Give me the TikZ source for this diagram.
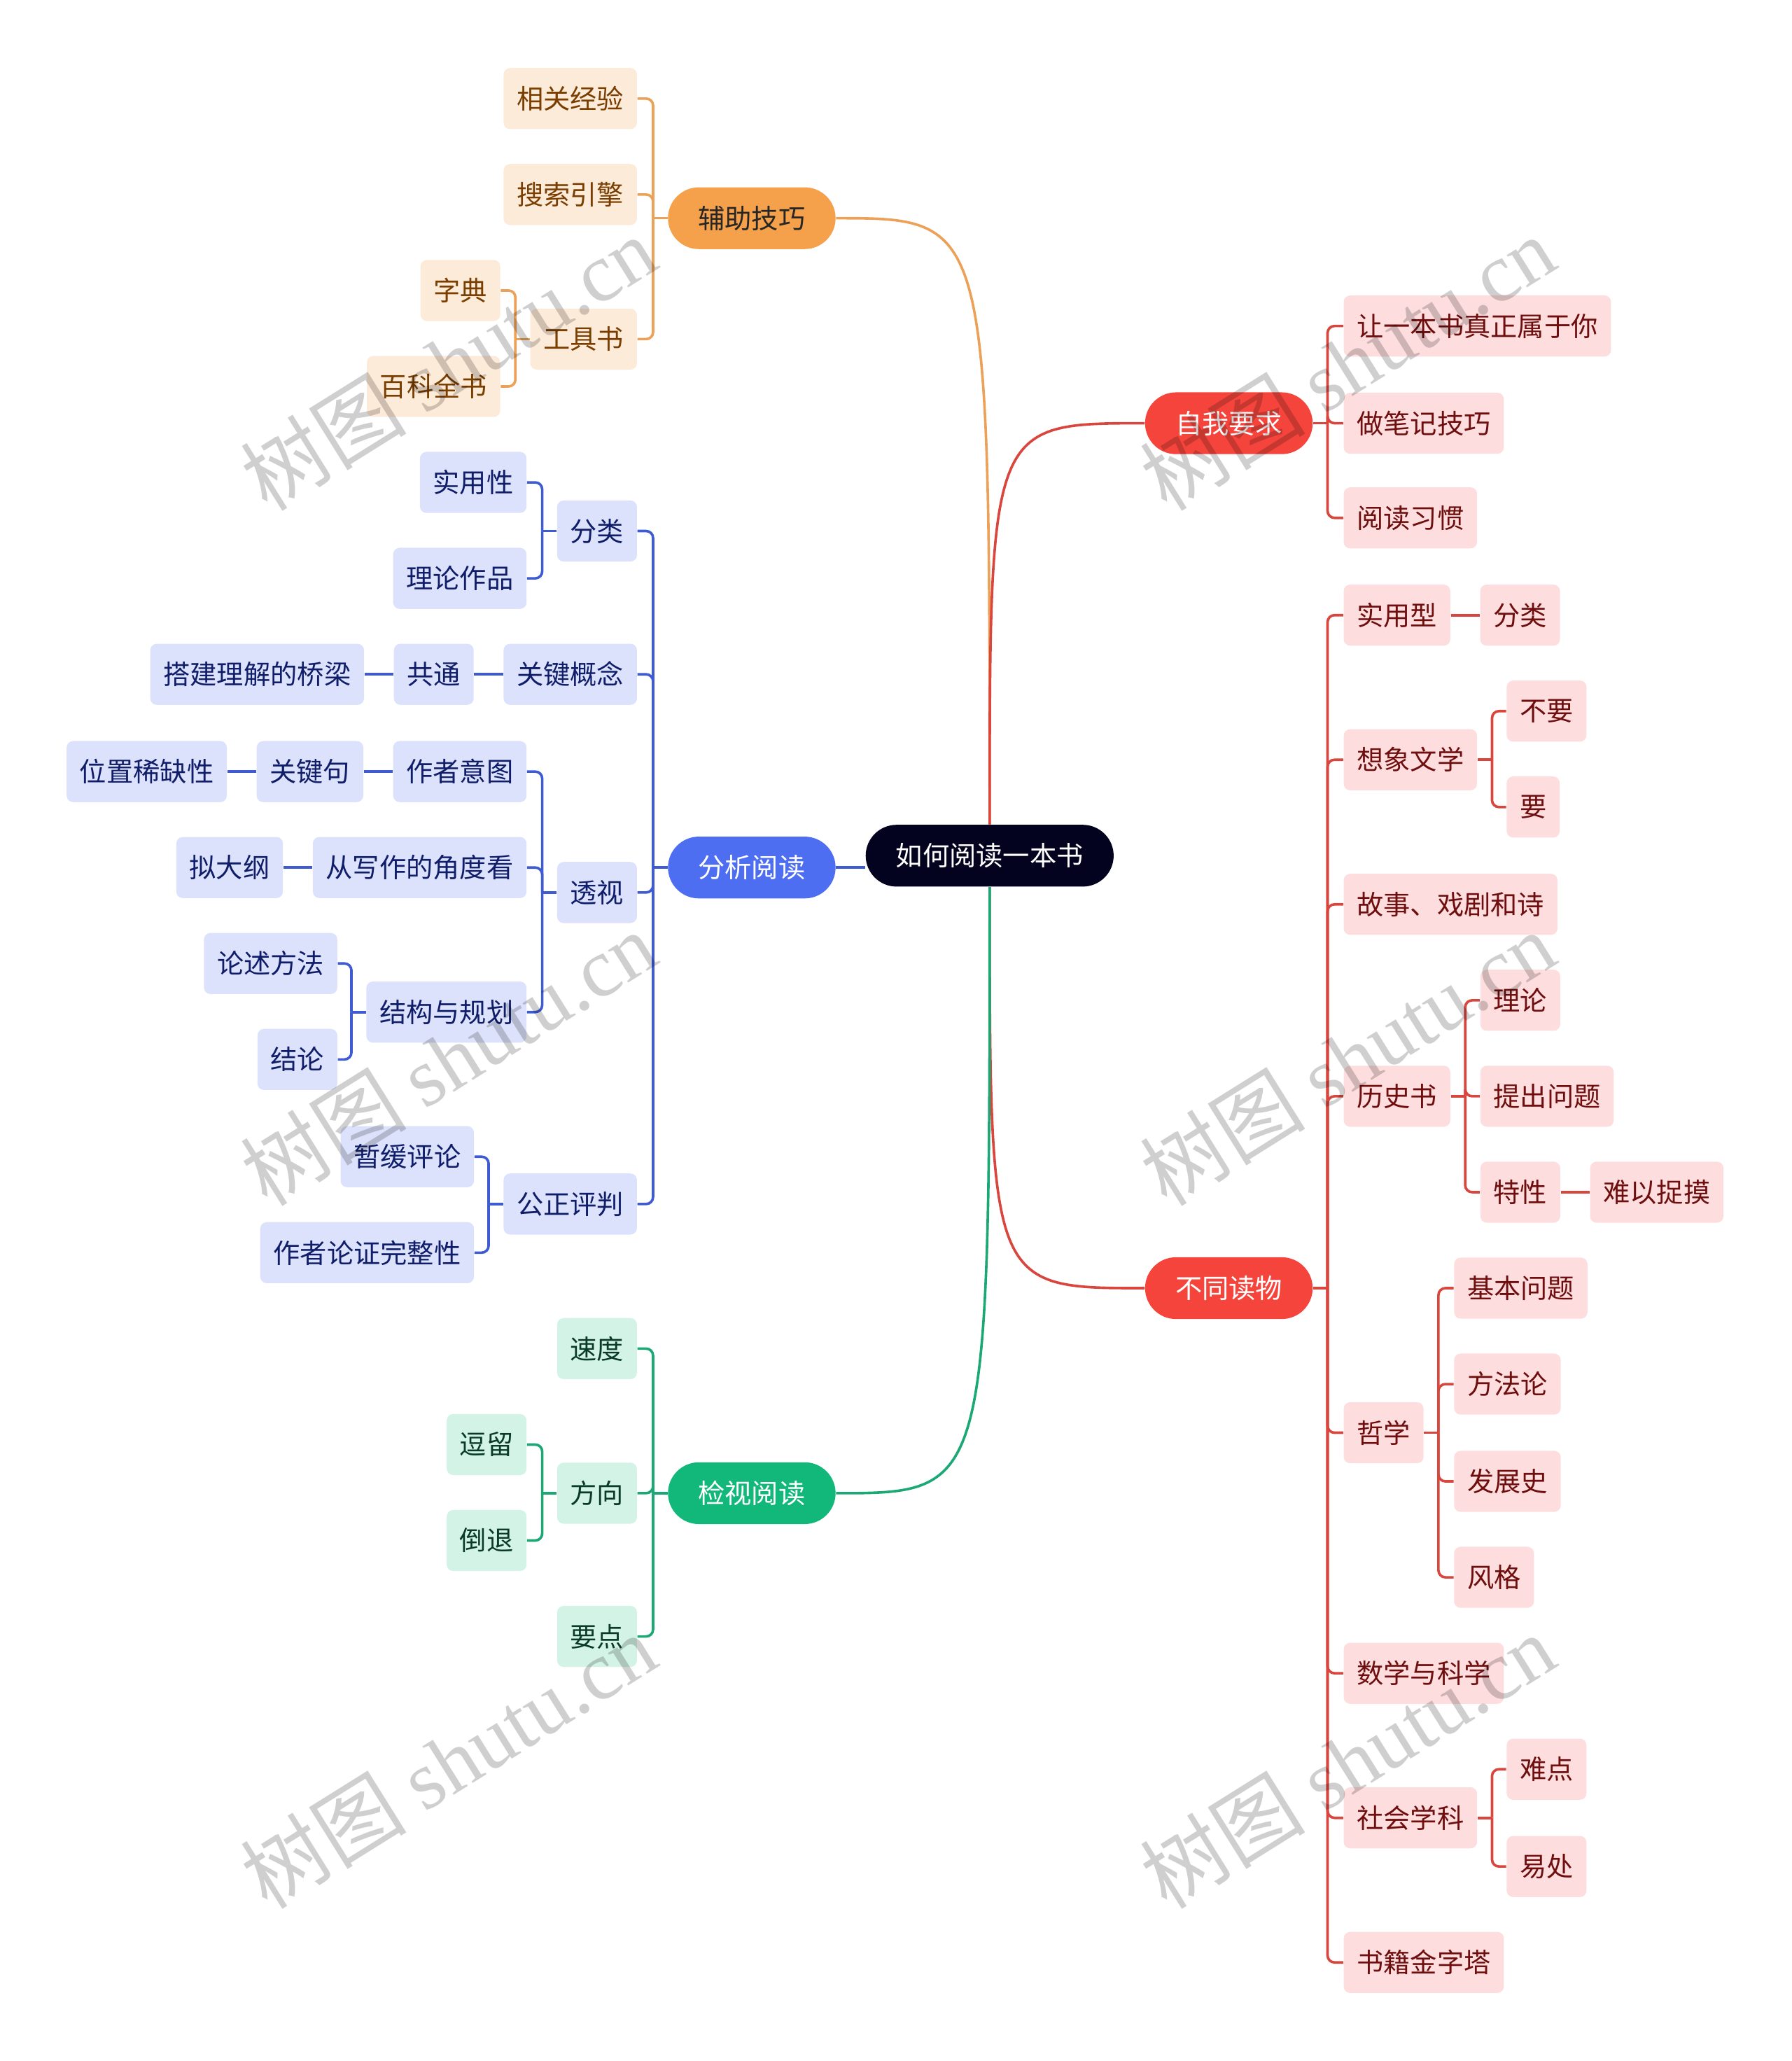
\documentclass[tikz,border=0pt]{standalone}
\usepackage{fontspec}
\setmainfont{Noto Sans CJK SC}
\newfontfamily\wmfont{Liberation Serif}
\usepackage{tikz}
\usetikzlibrary{positioning}

\definecolor{rootfill}{HTML}{03031F}
\definecolor{orgmain}{HTML}{F5A14C}
\definecolor{orgleaf}{HTML}{FDEBDA}
\definecolor{orgtext}{HTML}{7A3E00}
\definecolor{orgedge}{HTML}{EBA258}
\definecolor{redmain}{HTML}{F5443C}
\definecolor{redleaf}{HTML}{FDDDDD}
\definecolor{redtext}{HTML}{6E0E0E}
\definecolor{rededge}{HTML}{D8463E}
\definecolor{blumain}{HTML}{4E6EF2}
\definecolor{bluleaf}{HTML}{DCE2FB}
\definecolor{blutext}{HTML}{101E6A}
\definecolor{bluedge}{HTML}{3F5BD3}
\definecolor{grnmain}{HTML}{12B87A}
\definecolor{grnleaf}{HTML}{D3F3E6}
\definecolor{grntext}{HTML}{0A3A28}
\definecolor{grnedge}{HTML}{1BA874}

\begin{document}
\begin{tikzpicture}[x=0.02cm,y=-0.02cm,node distance=0.44cm,
	every node/.style={font=\fontsize{11.6}{14}\selectfont},
	leaf/.style={rectangle,rounded corners=0.1cm,minimum height=0.93cm,inner xsep=0.2cm,inner ysep=0pt},
	pill/.style={rectangle,rounded corners=0.47cm,minimum height=0.94cm,inner xsep=0.46cm,inner ysep=0pt},
	oleaf/.style={leaf,fill=orgleaf,text=orgtext},
	rleaf/.style={leaf,fill=redleaf,text=redtext},
	bleaf/.style={leaf,fill=bluleaf,text=blutext},
	gleaf/.style={leaf,fill=grnleaf,text=grntext},
	oline/.style={draw=orgedge,line width=1.1pt,rounded corners=3pt},
	rline/.style={draw=rededge,line width=1.1pt,rounded corners=3pt},
	bline/.style={draw=bluedge,line width=1.1pt,rounded corners=3pt},
	gline/.style={draw=grnedge,line width=1.1pt,rounded corners=3pt},
	wmark/.style={rotate=32,text=black,text opacity=0.19,font=\fontsize{36}{40}\selectfont}]
	
	\useasboundingbox (0,0) rectangle (1363,1568);
	
	% centre
	\node[pill,fill=rootfill,text=white] (root) at (753,651) {如何阅读一本书};
	
	% 辅助技巧
	\node[pill,fill=orgmain,text=black!85] (fz) at (572,166) {辅助技巧};
	\node[oleaf,anchor=east] (fz1) at (485,75) {相关经验};
	\node[oleaf,anchor=east] (fz2) at (485,148) {搜索引擎};
	\node[oleaf,anchor=east] (fz3) at (485,258) {工具书};
	\node[oleaf,anchor=east] (fz31) at (381,221) {字典};
	\node[oleaf,anchor=east] (fz32) at (381,294) {百科全书};
	
	% 分析阅读
	\node[pill,fill=blumain,text=white] (fx) at (572,660) {分析阅读};
	\node[bleaf,anchor=east] (fx1) at (485,404) {分类};
	\node[bleaf,anchor=east] (fx11) at (401,367) {实用性};
	\node[bleaf,anchor=east] (fx12) at (401,440) {理论作品};
	\node[bleaf,anchor=east] (fx2) at (485,513) {关键概念};
	\node[bleaf,left=of fx2] (fx21) {共通};
	\node[bleaf,left=of fx21] (fx211) {搭建理解的桥梁};
	\node[bleaf,anchor=east] (fx3) at (485,679) {透视};
	\node[bleaf,anchor=east] (fx31) at (401,587) {作者意图};
	\node[bleaf,left=of fx31] (fx311) {关键句};
	\node[bleaf,left=of fx311] (fx3111) {位置稀缺性};
	\node[bleaf,anchor=east] (fx32) at (401,660) {从写作的角度看};
	\node[bleaf,left=of fx32] (fx321) {拟大纲};
	\node[bleaf,anchor=east] (fx33) at (401,770) {结构与规划};
	\node[bleaf,anchor=east] (fx331) at (257,733) {论述方法};
	\node[bleaf,anchor=east] (fx332) at (257,806) {结论};
	\node[bleaf,anchor=east] (fx4) at (485,916) {公正评判};
	\node[bleaf,anchor=east] (fx41) at (361,880) {暂缓评论};
	\node[bleaf,anchor=east] (fx42) at (361,953) {作者论证完整性};
	
	% 检视阅读
	\node[pill,fill=grnmain,text=white] (js) at (572,1136) {检视阅读};
	\node[gleaf,anchor=east] (js1) at (485,1026) {速度};
	\node[gleaf,anchor=east] (js2) at (485,1136) {方向};
	\node[gleaf,anchor=east] (js21) at (401,1099) {逗留};
	\node[gleaf,anchor=east] (js22) at (401,1172) {倒退};
	\node[gleaf,anchor=east] (js3) at (485,1245) {要点};
	
	% 自我要求
	\node[pill,fill=redmain,text=white] (zw) at (935,322) {自我要求};
	\node[rleaf,anchor=west] (zw1) at (1022,248) {让一本书真正属于你};
	\node[rleaf,anchor=west] (zw2) at (1022,322) {做笔记技巧};
	\node[rleaf,anchor=west] (zw3) at (1022,394) {阅读习惯};
	
	% 不同读物
	\node[pill,fill=redmain,text=white] (bt) at (935,980) {不同读物};
	\node[rleaf,anchor=west] (bt1) at (1022,468) {实用型};
	\node[rleaf,right=of bt1] (bt11) {分类};
	\node[rleaf,anchor=west] (bt2) at (1022,578) {想象文学};
	\node[rleaf,anchor=west] (bt21) at (1146,541) {不要};
	\node[rleaf,anchor=west] (bt22) at (1146,614) {要};
	\node[rleaf,anchor=west] (bt3) at (1022,688) {故事、戏剧和诗};
	\node[rleaf,anchor=west] (bt4) at (1022,834) {历史书};
	\node[rleaf,anchor=west] (bt41) at (1126,761) {理论};
	\node[rleaf,anchor=west] (bt42) at (1126,834) {提出问题};
	\node[rleaf,anchor=west] (bt43) at (1126,907) {特性};
	\node[rleaf,right=of bt43] (bt431) {难以捉摸};
	\node[rleaf,anchor=west] (bt5) at (1022,1090) {哲学};
	\node[rleaf,anchor=west] (bt51) at (1106,980) {基本问题};
	\node[rleaf,anchor=west] (bt52) at (1106,1053) {方法论};
	\node[rleaf,anchor=west] (bt53) at (1106,1127) {发展史};
	\node[rleaf,anchor=west] (bt54) at (1106,1200) {风格};
	\node[rleaf,anchor=west] (bt6) at (1022,1273) {数学与科学};
	\node[rleaf,anchor=west] (bt7) at (1022,1383) {社会学科};
	\node[rleaf,anchor=west] (bt71) at (1146,1346) {难点};
	\node[rleaf,anchor=west] (bt72) at (1146,1420) {易处};
	\node[rleaf,anchor=west] (bt8) at (1022,1493) {书籍金字塔};
	
	% main branches
	\draw[oline] (root.north) .. controls (root.north |- fz.east) .. (fz.east);
	\draw[rline] (root.north) .. controls (root.north |- zw.west) .. (zw.west);
	\draw[rline] (root.south) .. controls (root.south |- bt.west) .. (bt.west);
	\draw[gline] (root.south) .. controls (root.south |- js.east) .. (js.east);
	\draw[bline] (fx.east) -- (fx.east -| root.west);
	
	% 辅助技巧 links
	\draw[oline] (fz.west) -- ++(-11,0) coordinate (fzj);
	\draw[oline] (fzj) |- (fz1.east);
	\draw[oline] (fzj) |- (fz2.east);
	\draw[oline] (fzj) |- (fz3.east);
	\draw[oline] (fz3.west) -- ++(-11,0) coordinate (fz3j);
	\draw[oline] (fz3j) |- (fz31.east);
	\draw[oline] (fz3j) |- (fz32.east);
	
	% 分析阅读 links
	\draw[bline] (fx.west) -- ++(-11,0) coordinate (fxj);
	\draw[bline] (fxj) |- (fx1.east);
	\draw[bline] (fxj) |- (fx2.east);
	\draw[bline] (fxj) |- (fx3.east);
	\draw[bline] (fxj) |- (fx4.east);
	\draw[bline] (fx1.west) -- ++(-11,0) coordinate (fx1j);
	\draw[bline] (fx1j) |- (fx11.east);
	\draw[bline] (fx1j) |- (fx12.east);
	\draw[bline] (fx2.west) -- (fx21.east);
	\draw[bline] (fx21.west) -- (fx211.east);
	\draw[bline] (fx3.west) -- ++(-11,0) coordinate (fx3j);
	\draw[bline] (fx3j) |- (fx31.east);
	\draw[bline] (fx3j) |- (fx32.east);
	\draw[bline] (fx3j) |- (fx33.east);
	\draw[bline] (fx31.west) -- (fx311.east);
	\draw[bline] (fx311.west) -- (fx3111.east);
	\draw[bline] (fx32.west) -- (fx321.east);
	\draw[bline] (fx33.west) -- ++(-11,0) coordinate (fx33j);
	\draw[bline] (fx33j) |- (fx331.east);
	\draw[bline] (fx33j) |- (fx332.east);
	\draw[bline] (fx4.west) -- ++(-11,0) coordinate (fx4j);
	\draw[bline] (fx4j) |- (fx41.east);
	\draw[bline] (fx4j) |- (fx42.east);
	
	% 检视阅读 links
	\draw[gline] (js.west) -- ++(-11,0) coordinate (jsj);
	\draw[gline] (jsj) |- (js1.east);
	\draw[gline] (jsj) |- (js2.east);
	\draw[gline] (jsj) |- (js3.east);
	\draw[gline] (js2.west) -- ++(-11,0) coordinate (js2j);
	\draw[gline] (js2j) |- (js21.east);
	\draw[gline] (js2j) |- (js22.east);
	
	% 自我要求 links
	\draw[rline] (zw.east) -- ++(11,0) coordinate (zwj);
	\draw[rline] (zwj) |- (zw1.west);
	\draw[rline] (zwj) |- (zw2.west);
	\draw[rline] (zwj) |- (zw3.west);
	
	% 不同读物 links
	\draw[rline] (bt.east) -- ++(11,0) coordinate (btj);
	\draw[rline] (btj) |- (bt1.west);
	\draw[rline] (btj) |- (bt2.west);
	\draw[rline] (btj) |- (bt3.west);
	\draw[rline] (btj) |- (bt4.west);
	\draw[rline] (btj) |- (bt5.west);
	\draw[rline] (btj) |- (bt6.west);
	\draw[rline] (btj) |- (bt7.west);
	\draw[rline] (btj) |- (bt8.west);
	\draw[rline] (bt1.east) -- (bt11.west);
	\draw[rline] (bt2.east) -- ++(11,0) coordinate (bt2j);
	\draw[rline] (bt2j) |- (bt21.west);
	\draw[rline] (bt2j) |- (bt22.west);
	\draw[rline] (bt4.east) -- ++(11,0) coordinate (bt4j);
	\draw[rline] (bt4j) |- (bt41.west);
	\draw[rline] (bt4j) |- (bt42.west);
	\draw[rline] (bt4j) |- (bt43.west);
	\draw[rline] (bt43.east) -- (bt431.west);
	\draw[rline] (bt5.east) -- ++(11,0) coordinate (bt5j);
	\draw[rline] (bt5j) |- (bt51.west);
	\draw[rline] (bt5j) |- (bt52.west);
	\draw[rline] (bt5j) |- (bt53.west);
	\draw[rline] (bt5j) |- (bt54.west);
	\draw[rline] (bt7.east) -- ++(11,0) coordinate (bt7j);
	\draw[rline] (bt7j) |- (bt71.west);
	\draw[rline] (bt7j) |- (bt72.west);
	
	% watermark
	\node[wmark] (wm1) at (341,276) {树图 {\wmfont shutu.cn}};
	\node[wmark] (wm2) at (341,805) {树图 {\wmfont shutu.cn}};
	\node[wmark] (wm3) at (341,1340) {树图 {\wmfont shutu.cn}};
	\node[wmark] (wm4) at (1025,276) {树图 {\wmfont shutu.cn}};
	\node[wmark] (wm5) at (1025,805) {树图 {\wmfont shutu.cn}};
	\node[wmark] (wm6) at (1025,1340) {树图 {\wmfont shutu.cn}};
\end{tikzpicture}
\end{document}
